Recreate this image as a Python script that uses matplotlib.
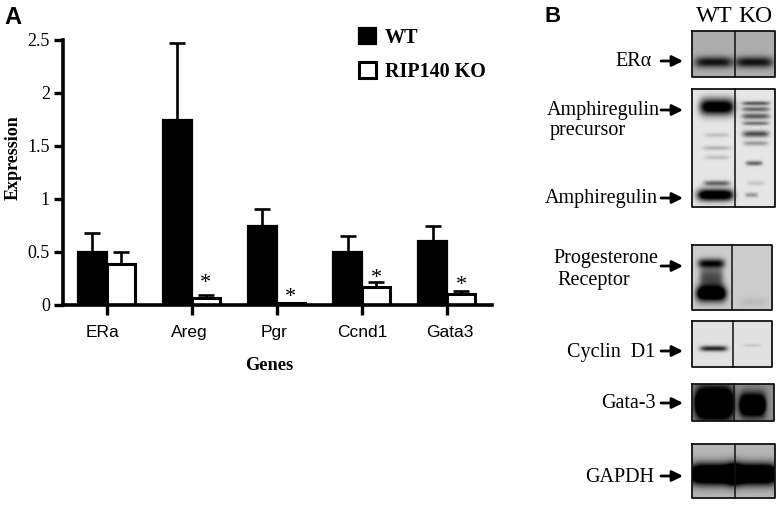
import numpy as np
import matplotlib
matplotlib.use('Agg')
import matplotlib.pyplot as plt

W, H = 783, 505
SERIF = 'Liberation Serif'
SANS = 'Liberation Sans'

genes = ['ERa', 'Areg', 'Pgr', 'Ccnd1', 'Gata3']
wt_mean = [0.50, 1.74, 0.74, 0.50, 0.60]
wt_err = [0.18, 0.73, 0.16, 0.15, 0.14]
ko_mean = [0.38, 0.06, 0.01, 0.17, 0.10]
ko_err = [0.12, 0.03, 0.005, 0.04, 0.03]
star_y = [None, 0.20, 0.07, 0.25, 0.18]
y_ticks = [0, 0.5, 1, 1.5, 2, 2.5]
y_labels = ['0', '0.5', '1', '1.5', '2', '2.5']

# a band is (x centre, y centre, half width, half height, strength), panel fractions
era_bands = [(0.26, 0.68, 0.23, 0.12, 0.62), (0.75, 0.68, 0.23, 0.12, 0.62)]
amph_bands = [(0.30, 0.15, 0.21, 0.07, 1.1), (0.28, 0.90, 0.22, 0.05, 1.2),
              (0.30, 0.80, 0.16, 0.022, 0.5), (0.30, 0.50, 0.17, 0.018, 0.2),
              (0.30, 0.39, 0.15, 0.018, 0.15), (0.30, 0.58, 0.15, 0.018, 0.15),
              (0.77, 0.12, 0.17, 0.018, 0.55), (0.77, 0.17, 0.17, 0.02, 0.5),
              (0.77, 0.23, 0.17, 0.025, 0.55), (0.77, 0.29, 0.16, 0.018, 0.45),
              (0.77, 0.38, 0.16, 0.028, 0.6), (0.77, 0.46, 0.15, 0.02, 0.3),
              (0.75, 0.63, 0.10, 0.02, 0.5), (0.72, 0.90, 0.08, 0.02, 0.3),
              (0.77, 0.80, 0.11, 0.02, 0.12)]
pr_bands = [(0.24, 0.75, 0.19, 0.12, 1.2), (0.24, 0.28, 0.17, 0.07, 0.7),
            (0.24, 0.50, 0.15, 0.18, 0.5), (0.78, 0.88, 0.18, 0.07, 0.06)]
ccnd_bands = [(0.27, 0.60, 0.17, 0.06, 0.75), (0.76, 0.53, 0.11, 0.03, 0.1)]
gata_bands = [(0.27, 0.52, 0.23, 0.40, 1.5), (0.74, 0.57, 0.16, 0.30, 1.2)]
gapdh_bands = [(0.26, 0.56, 0.30, 0.19, 1.4), (0.75, 0.56, 0.30, 0.19, 1.4)]

# first lines are right aligned, second lines start at their own x
blot_names = ['ER\u03b1', 'Amphiregulin', 'Amphiregulin', 'Progesterone', 'Cyclin  D1', 'Gata-3', 'GAPDH']
label_right = [652, 660, 658, 658, 655, 656, 654]
label_y = [62, 110, 199, 259, 353, 404, 477]
arrow_y = [61, 110, 198, 266, 351, 403, 476]
second_lines = [('precursor', 550, 130), ('Receptor', 557, 280)]
boxes = [(692, 31, 775, 77, 735, 0.68, era_bands),
         (692, 89, 775, 207, 735, 0.90, amph_bands),
         (692, 245, 772, 310, 732, 0.80, pr_bands),
         (692, 321, 772, 367, 733, 0.88, ccnd_bands),
         (692, 384, 774, 421, 734, 0.55, gata_bands),
         (692, 444, 775, 498, 735, 0.72, gapdh_bands)]


def blot_image(w, h, bg, bands):
    xx, yy = np.meshgrid(np.linspace(0, 1, w * 2), np.linspace(0, 1, h * 2))
    img = np.full(xx.shape, bg, dtype=float)
    for cx, cy, hw, hh, s in bands:
        img -= s * np.exp(-np.abs((xx - cx) / hw) ** 5) * np.exp(-((yy - cy) / hh) ** 2)
    return np.clip(img, 0, 1)


fig = plt.figure(figsize=(W / 100, H / 100), dpi=100)

# panel A
ax = fig.add_axes([63 / W, 1 - 304.5 / H, (491.7 - 63) / W, (304.5 - 40) / H])
x = np.arange(len(genes))
wt_w, ko_w = 0.34, 0.33
ax.bar(x - wt_w, wt_mean, wt_w, align='edge', color='black', edgecolor='black', lw=1.6, label='WT')
ax.bar(x, ko_mean, ko_w, align='edge', color='white', edgecolor='black', lw=2.2, label='RIP140 KO')
ax.errorbar(x - wt_w / 2, wt_mean, yerr=[np.zeros(5), wt_err], fmt='none', ecolor='black',
            elinewidth=1.9, capsize=5.8, capthick=1.9)
ax.errorbar(x + ko_w / 2, ko_mean, yerr=[np.zeros(5), ko_err], fmt='none', ecolor='black',
            elinewidth=1.9, capsize=5.8, capthick=1.9)
for i, s in enumerate(star_y):
    if s is not None:
        ax.text(x[i] + ko_w / 2, s, '*', family=SERIF, fontsize=16, ha='center', va='center')

ax.set_xlim(-0.513, 4.524)
ax.set_ylim(0, 2.5)
# the gene names sit a little off their ticks in the original, so they go on minor ticks
ax.xaxis.remove_overlapping_locs = False
ax.set_xticks(x)
ax.set_xticklabels([])
ax.set_xticks(x + np.array([-4, -2, -3, 0, 3]) / 85.1, minor=True)
ax.set_xticklabels(genes, minor=True, family=SANS, fontsize=12.5)
ax.set_yticks(y_ticks)
ax.set_yticklabels(y_labels, family=SERIF, fontsize=13)
ax.tick_params(axis='x', length=7, width=2.4)
ax.tick_params(axis='x', which='minor', length=0, pad=15)
ax.tick_params(axis='y', length=6.5, width=2.4, pad=3)
for side in ['top', 'right']:
    ax.spines[side].set_visible(False)
for side in ['left', 'bottom']:
    ax.spines[side].set_linewidth(2.6)
ax.legend(loc='upper left', bbox_to_anchor=(0.69, 1.045), frameon=False,
          prop={'family': SERIF, 'weight': 'bold', 'size': 14.5}, handlelength=0.85,
          handleheight=0.85, labelspacing=0.68, handletextpad=0.45, borderpad=0, borderaxespad=0)

# overlay in pixel coordinates for the panel letters, axis titles and blots
ov = fig.add_axes([0, 0, 1, 1], facecolor='none')
ov.axis('off')
ov.text(13, 158, 'Expression', family=SERIF, weight='bold', fontsize=13, rotation=90, ha='center', va='center')
ov.text(269, 365, 'Genes', family=SERIF, weight='bold', fontsize=13.2, ha='center', va='center')
ov.text(4, 17, 'A', family=SANS, weight='bold', fontsize=17, ha='left', va='center')
ov.text(544, 17, 'B', family=SANS, weight='bold', fontsize=16, ha='left', va='center')
ov.text(714, 16, 'WT', family=SERIF, fontsize=17, ha='center', va='center')
ov.text(755, 16, 'KO', family=SERIF, fontsize=17, ha='center', va='center')

for x0, y0, x1, y1, div, bg, bands in boxes:
    ov.imshow(blot_image(x1 - x0, y1 - y0, bg, bands), cmap='gray', vmin=0, vmax=1,
              extent=(x0, x1, y1, y0), aspect='auto', interpolation='bilinear', zorder=1)
    ov.plot([x0, x1, x1, x0, x0], [y0, y0, y1, y1, y0], color='#111111', lw=1.3, zorder=2)
    ov.plot([div, div], [y0, y1], color='#111111', lw=1.1, zorder=2)
ov.set_xlim(0, W)
ov.set_ylim(H, 0)

for name, rx, ly, ay in zip(blot_names, label_right, label_y, arrow_y):
    ov.text(rx, ly, name, family=SERIF, fontsize=14.5, ha='right', va='center')
    ov.annotate('', xy=(683, ay), xytext=(661, ay),
                arrowprops=dict(arrowstyle='-|>', color='black', lw=2, mutation_scale=16,
                                shrinkA=0, shrinkB=0))
for name, lx, ly in second_lines:
    ov.text(lx, ly, name, family=SERIF, fontsize=14.5, ha='left', va='center')

fig.savefig('out.png', dpi=100)
